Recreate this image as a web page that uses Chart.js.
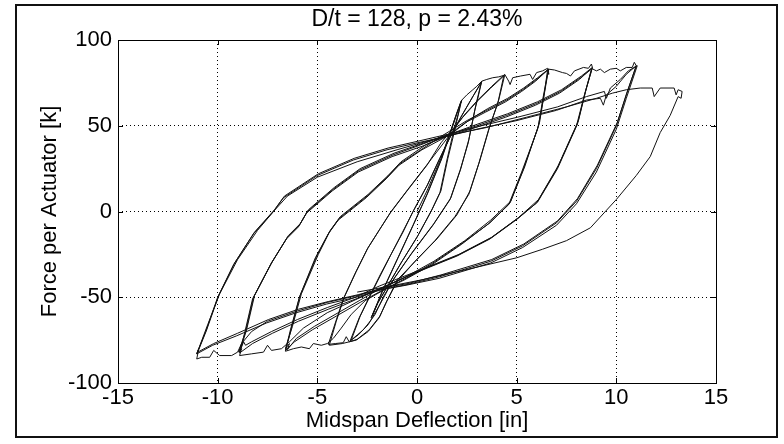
<!DOCTYPE html>
<html>
<head>
<meta charset="utf-8">
<script src="https://cdn.jsdelivr.net/npm/chart.js@4.4.0/dist/chart.umd.min.js"></script>
<style>
  html, body { margin: 0; padding: 0; background: #fff; }
</style>
</head>
<body>
<canvas id="myChart" width="784" height="444"></canvas>
<script>
// tick values
let xTicks = [-15, -10, -5, 0, 5, 10, 15];
let yTicks = [-100, -50, 0, 50, 100];

// load cycles, [midspan deflection in, force k]
let c22a = [[0,0],[0.5,12],[1.2,31],[1.6,44],[1.9,54],[2.24,65],[2.1,58],[1.9,50],[1.5,30],[1.15,11],[0.7,0],[0,-15],[-0.8,-30],[-1.5,-44],[-2.0,-54],[-2.3,-62],[-1.8,-48],[-1.0,-28],[-0.2,-8],[0.5,10],[1.2,30],[1.55,42],[1.95,56],[2.2,64]];
let c22b = [[2.2,64],[1.95,50],[1.55,31],[1.2,12],[0.75,1],[0.05,-14],[-0.75,-29],[-1.45,-43],[-1.95,-53],[-2.25,-61],[-1.75,-47],[-0.95,-27],[-0.15,-7],[0.55,11],[1.25,31],[1.6,43],[2.0,57],[2.25,65]];
let c33a = [[2.25,65],[2.5,68],[2.8,71],[3.0,73],[3.25,76],[3.05,66],[2.9,59],[2.57,40],[2.16,24],[1.66,7],[0.8,-8],[-0.3,-25],[-1.2,-40],[-1.7,-50],[-2.1,-60],[-2.35,-64],[-2.7,-69],[-3.0,-72],[-3.36,-75.6],[-2.9,-62],[-2.36,-49],[-1.85,-37],[-1.35,-26],[-0.7,-12],[-0.2,0],[0.5,15],[1.1,30],[1.6,42],[2.2,55],[2.8,67],[3.22,75]];
let c33b = [[3.22,75],[2.95,62],[2.6,42],[2.2,25],[1.7,8],[0.85,-7],[-0.25,-24],[-1.15,-39],[-1.85,-54],[-2.45,-66],[-2.95,-72],[-3.3,-75],[-2.85,-61],[-2.3,-48],[-1.3,-25],[-0.15,1],[0.55,16],[1.15,31],[1.65,43],[2.25,56],[2.85,68],[3.25,76]];
let c44a = [[3.25,76],[3.5,77],[3.8,78],[4.1,78.5],[4.4,79.5],[4.1,65],[3.66,50],[3.16,30],[2.66,12],[2.0,-2],[1.0,-16],[0,-28],[-1.0,-40],[-1.5,-52],[-1.86,-61],[-2.4,-69],[-3.0,-74.5],[-3.4,-76],[-3.55,-73],[-3.7,-76.5],[-4.1,-77],[-4.45,-77.5],[-4.1,-65],[-3.7,-51],[-3.1,-36],[-2.5,-22],[-1.9,-11],[-1.35,-1],[-0.5,12],[0.5,27],[1.2,40],[2.3,55],[3.0,64],[3.7,72],[4.35,79]];
let c44b = [[4.35,79],[4.05,63],[3.6,48],[3.1,28],[2.6,10],[1.9,-3],[0.9,-17],[-0.1,-29],[-1.0,-41],[-1.55,-53],[-1.9,-62],[-2.45,-70],[-3.05,-75],[-3.75,-77],[-4.4,-78],[-4.05,-64],[-3.65,-50],[-3.05,-35],[-2.45,-21],[-1.85,-10],[-1.3,0],[-0.45,13],[0.55,28],[1.6,44],[2.35,56],[3.05,65],[3.75,73],[4.4,80]];
let c66a = [[4.4,80],[4.6,76],[4.67,74],[4.8,78],[5.2,79],[5.67,80],[5.8,77],[6.0,81],[6.3,82],[6.55,83.5],[6.62,80],[6.6,83],[6.3,65],[6.1,50],[5.33,24.5],[4.67,5],[3.66,-6.6],[2.33,-18],[0.8,-30],[-0.4,-38],[-1.4,-44],[-2.6,-52],[-3.3,-60],[-3.8,-68],[-4.2,-74],[-4.5,-77],[-4.8,-78],[-5.2,-77],[-5.4,-80],[-5.8,-79],[-6.2,-80],[-6.6,-81.5],[-6.3,-68],[-5.87,-49],[-5.03,-26],[-4.4,-12],[-3.9,-4],[-2.5,9],[-1.5,20],[-0.85,28],[0.2,36],[1.1,43],[2.5,53],[3.5,59],[4.5,65],[5.3,71],[6.0,77],[6.55,82.5]];
let c66b = [[6.55,82.5],[6.4,70],[6.15,52],[5.4,26],[4.7,6],[3.7,-5],[2.4,-17],[0.85,-29],[-0.7,-39],[-2.0,-46],[-2.9,-52],[-3.95,-59],[-5.15,-67],[-6.05,-74],[-6.5,-80.5],[-6.4,-77],[-6.6,-80],[-6.25,-67],[-5.8,-48],[-4.95,-25],[-4.35,-11],[-3.85,-3],[-2.45,10],[-1.45,21],[-0.8,29],[0.45,39],[1.8,46],[2.7,54],[3.55,60],[4.55,66],[5.35,72],[6.05,78],[6.6,83]];
let c66c = [[6.6,83],[6.35,66],[6.05,48],[5.25,23],[4.6,4],[3.6,-7],[2.25,-19],[0.75,-31],[-0.65,-40],[-1.75,-46],[-2.85,-53],[-4.05,-61],[-5.25,-69],[-6.15,-76],[-6.6,-81],[-6.35,-69],[-5.9,-50],[-5.1,-27],[-4.45,-13],[-3.95,-5],[-2.55,8],[-1.55,19],[-0.9,27],[0.25,36],[1.45,43.5],[2.45,52],[3.45,58],[4.45,64],[5.25,70],[5.95,76],[6.6,83]];
let c88a = [[6.6,83],[6.9,82.5],[7.3,81],[7.5,80.5],[7.7,79],[7.9,82],[8.35,84],[8.6,83.5],[8.75,86],[8.8,84],[8.4,68],[8,50],[7,24.5],[6,5],[5,-4.7],[3.66,-16],[2,-26],[0.3,-34],[-1.1,-41],[-3,-51],[-4.5,-59],[-5.7,-68],[-6.4,-76],[-6.8,-80],[-7.3,-81],[-7.5,-78],[-7.7,-82],[-8.3,-83],[-8.9,-84],[-8.8,-80],[-8.95,-82],[-8.6,-70],[-8.2,-50],[-7.3,-30],[-6.5,-15],[-5.9,-8],[-5.5,0],[-4.2,13],[-2.9,24],[-1.2,33],[0.1,38.5],[1.0,42.5],[3,50],[4.5,56],[6,63],[7.2,70],[8.2,78],[8.75,83]];
let c88b = [[8.75,83],[8.5,72],[8.1,53],[7.1,27],[6.1,7],[5.1,-3.5],[3.75,-15],[2.1,-25],[0.4,-33],[-1.9,-43.5],[-3.1,-50],[-4.5,-56],[-6.0,-63],[-7.3,-70],[-8.3,-76],[-8.6,-78],[-8.7,-76],[-8.9,-82],[-8.55,-69],[-8.15,-49],[-7.25,-29],[-6.45,-14],[-5.85,-7],[-5.45,1],[-4.15,14],[-2.85,25],[-1.15,34],[0.35,40],[1.75,45.5],[3.05,51],[4.55,57],[6.05,64],[7.25,71],[8.25,79],[8.8,84]];
let c88c = [[8.8,84],[8.45,70],[8.05,51],[7.05,25],[6.05,5.5],[5.05,-4],[3.7,-15.5],[2.05,-25.5],[0.35,-33.5],[-1.5,-43],[-2.95,-50.5],[-4.45,-57],[-5.95,-64],[-7.25,-71],[-8.25,-77],[-8.9,-82.5],[-8.65,-71],[-8.25,-51],[-7.35,-31],[-6.55,-16],[-5.95,-9],[-5.55,-1],[-4.25,12],[-2.95,23],[-1.25,32],[0.25,38],[1.3,43],[2.95,49],[4.45,55],[5.95,62],[7.15,69],[8.15,77],[8.75,83.5]];
let c11a = [[8.75,83.5],[9.0,82],[9.2,83],[9.4,81],[9.7,83],[10.0,83.5],[10.2,82],[10.5,84],[10.8,84],[10.9,87],[11.0,85],[10.5,68],[10,50],[9,25],[8,6],[7,-6.6],[5.3,-20],[3.7,-29],[1.15,-38],[-0.5,-42.6],[-2.0,-46],[-3,-49],[-4.5,-53],[-6,-58],[-7.5,-64],[-8.3,-70],[-8.8,-77],[-9.0,-82],[-9.3,-84],[-9.9,-84],[-10.2,-81],[-10.4,-85],[-10.8,-85],[-11.05,-86],[-10.95,-80],[-11.05,-83],[-10.6,-70],[-10,-50],[-9.2,-31],[-8.2,-13],[-7.2,0],[-6.7,8],[-5,21],[-3.2,30],[-1.5,36],[0,40],[1.2,43],[3,48],[5,53],[7,59],[8.5,65],[9.2,66],[9.35,62],[9.5,68],[10,73],[10.5,80],[11,85]];
let c11b = [[11,85],[10.55,70],[10.05,52],[9.05,27],[8.05,7.5],[7.05,-5.5],[5.35,-19],[3.75,-28],[1.2,-37],[-0.45,-42],[-1.45,-44],[-2.95,-48.5],[-4.45,-52.5],[-5.95,-57],[-7.45,-63],[-9.0,-71],[-10.2,-77],[-11.0,-82],[-10.55,-69],[-9.95,-49],[-9.15,-30],[-8.15,-12],[-7.15,1],[-6.65,9],[-4.95,22],[-3.15,31],[-1.45,37],[0.05,41],[1.9,46],[3.05,49.5],[5.05,55],[7.05,61],[8.5,67],[9.4,70],[9.5,66],[9.7,72],[10.2,77],[10.6,82],[11.05,85]];
let cFin = [[11.05,85],[10.5,66],[10.0,48],[9.0,23],[8.0,4.5],[7.0,-8],[5.3,-21],[3.7,-30],[1.1,-39],[-0.55,-43],[-1.75,-45.5],[-3.05,-50],[-4.55,-54],[-6.05,-59],[-7.55,-65],[-9.05,-72.5],[-10.25,-78],[-11.05,-83],[-10.5,-66],[-9.9,-48],[-9,-28],[-8,-11],[-7.2,0],[-6.5,9],[-5,20],[-3,29],[-1,36],[0.5,41],[1.6,44.5],[3.5,49],[5.5,55],[7.5,61],[9,66],[9.8,69],[10.5,71],[11.2,72],[11.8,72],[11.9,67],[12.2,72],[12.9,72],[13.0,68],[13.1,71],[13.3,70],[13.25,66],[13.1,67],[12.7,56],[12.2,46],[11.7,32],[11,21],[10,7],[8.7,-9.5],[7.5,-17],[6.3,-22],[5,-27],[2.8,-33],[0.3,-39.7],[-1.35,-43.5],[-3,-47]];

let cycles = [c22a, c22b, c33a, c33b, c44a, c44b, c66a, c66b, c66c, c88a, c88b, c88c, c11a, c11b, cFin];

const FONT = '"Liberation Sans", Arial, sans-serif';

// white page, axes box with inward ticks, outer frame
const framePlugin = {
  id: "frame",
  beforeDraw(chart) {
    const ctx = chart.ctx;
    ctx.save();
    ctx.fillStyle = "#fff";
    ctx.fillRect(0, 0, chart.width, chart.height);
    ctx.restore();
  },
  afterDatasetsDraw(chart) {
    const { ctx, chartArea: a, scales } = chart;
    ctx.save();
    ctx.strokeStyle = "#000";
    ctx.lineWidth = 1;
    ctx.strokeRect(Math.round(a.left) + 0.5, Math.round(a.top) + 0.5, Math.round(a.right - a.left), Math.round(a.bottom - a.top));
    ctx.beginPath();
    xTicks.forEach((v) => {
      let px = Math.round(scales.x.getPixelForValue(v)) + 0.5;
      ctx.moveTo(px, a.bottom); ctx.lineTo(px, a.bottom - 5);
      ctx.moveTo(px, a.top); ctx.lineTo(px, a.top + 5);
    });
    yTicks.forEach((v) => {
      let py = Math.round(scales.y.getPixelForValue(v)) + 0.5;
      ctx.moveTo(a.left, py); ctx.lineTo(a.left + 5, py);
      ctx.moveTo(a.right, py); ctx.lineTo(a.right - 5, py);
    });
    ctx.stroke();
    ctx.lineWidth = 2;
    ctx.strokeStyle = "#111";
    ctx.strokeRect(16, 5, 761, 432);
    ctx.restore();
  },
};

let gridColor = (c) => (c.tick && (c.tick.value === c.scale.min || c.tick.value === c.scale.max)) ? "rgba(0,0,0,0)" : "#000";

let myChart = new Chart(document.getElementById("myChart").getContext("2d"), {
  type: "scatter",
  data: {
    datasets: cycles.map((c) => ({
      data: c.map((p) => ({ x: p[0], y: p[1] })),
      showLine: true,
      borderColor: "#111",
      borderWidth: 1,
      pointRadius: 0,
      fill: false,
      tension: 0,
    })),
  },
  options: {
    responsive: false,
    animation: false,
    layout: { padding: { left: 16, right: 68, top: 0, bottom: 0 } },
    plugins: {
      legend: { display: false },
      tooltip: { enabled: false },
      title: {
        display: true,
        text: "D/t = 128, p = 2.43%",
        fullSize: false,
        color: "#000",
        font: { family: FONT, size: 23, weight: "normal", lineHeight: 1 },
        padding: { top: 8, bottom: 9 },
      },
    },
    scales: {
      x: {
        type: "linear",
        min: -15,
        max: 15,
        afterBuildTicks: (s) => { s.ticks = xTicks.map((v) => ({ value: v })); },
        afterFit: (s) => { s.height = 61; },
        grid: { color: gridColor, drawTicks: false, lineWidth: 1 },
        border: { display: false, dash: [1, 3] },
        ticks: { color: "#000", padding: 4, font: { family: FONT, size: 22, lineHeight: 1 } },
        title: {
          display: true,
          text: "Midspan Deflection [in]",
          color: "#000",
          font: { family: FONT, size: 22, lineHeight: 1 },
          padding: { top: 0, bottom: 12 },
        },
      },
      y: {
        type: "linear",
        min: -100,
        max: 100,
        afterBuildTicks: (s) => { s.ticks = yTicks.map((v) => ({ value: v })); },
        afterFit: (s) => { s.width = 102; },
        grid: { color: gridColor, drawTicks: false, lineWidth: 1 },
        border: { display: false, dash: [1, 3] },
        ticks: { color: "#000", padding: 6, font: { family: FONT, size: 22, lineHeight: 1 } },
        title: {
          display: true,
          text: "Force per Actuator [k]",
          color: "#000",
          font: { family: FONT, size: 22, lineHeight: 1 },
          padding: { top: 23, bottom: 0 },
        },
      },
    },
  },
  plugins: [framePlugin],
});
</script>
</body>
</html>
